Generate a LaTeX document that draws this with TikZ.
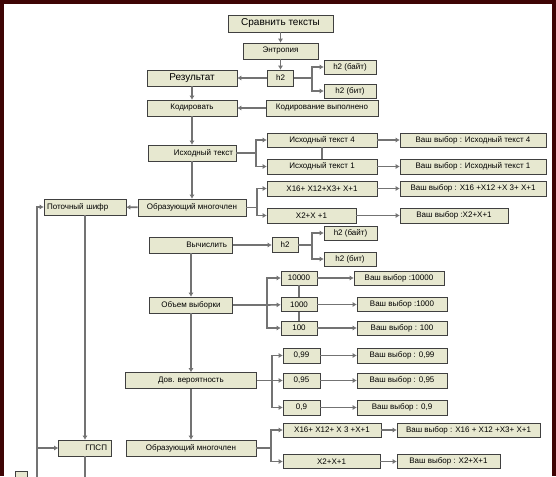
\documentclass[tikz,border=0pt]{standalone}
\usepackage{fontspec}
\setmainfont{Liberation Sans}
\usetikzlibrary{shapes,arrows.meta}
\usetikzlibrary{positioning}
\usetikzlibrary{shadows}
\definecolor{boxfill}{RGB}{231,232,208}
\definecolor{frame}{RGB}{62,4,4}
\tikzstyle{block} = [rectangle, draw=black!75, fill=boxfill, line width=0.6pt,
    inner sep=1pt, font=\fontsize{8}{9}\selectfont,
    drop shadow={shadow xshift=0.8pt, shadow yshift=-0.8pt, fill=black!75, opacity=1}]
\tikzstyle{bigblock} = [block, font=\fontsize{10}{11}\selectfont]
\tikzstyle{edge} = [draw=black!55, line width=1.6pt]
\tikzstyle{line} = [edge, -{Latex[length=4pt,width=5pt]}]
\tikzset{wh/.style 2 args={minimum width=#1pt, minimum height=#2pt}}

\begin{document}
\begin{tikzpicture}[x=1pt, y=-1pt]
\useasboundingbox (0,0) rectangle (556,476);
\clip (0,0) rectangle (556,476);
\fill[frame] (0,0) rectangle (556,476);
\fill[white] (4,4) rectangle (552,480);

% Place nodes
\node [bigblock, wh={105}{17}] (cmp) at (280.5,23.5) {Сравнить тексты};
\node [block, wh={75}{16}] (ent) at (280.5,51) {Энтропия};
\node [bigblock, wh={90}{16}] (res) at (192,78) {Результат};
\node [block, wh={26}{16}] (hA) at (280.5,78) {h2};
\node [block, wh={52}{14}] (hAbyte) at (350,67) {h2 (байт)};
\node [block, wh={52}{14}] (hAbit) at (350,91) {h2 (бит)};
\node [block, wh={90}{16}] (cod) at (192,108) {Кодировать};
\node [block, wh={112}{16}] (done) at (322,108) {Кодирование выполнено};

\node [block, wh={88}{16}, text width=82pt, align=right] (src) at (192,153) {Исходный текст};
\node [block, wh={110}{14}] (src4) at (322,140) {Исходный текст 4};
\node [block, wh={146}{14}] (ch4) at (473,140) {Ваш выбор : Исходный текст 4};
\node [block, wh={110}{15}] (src1) at (322,166.5) {Исходный текст 1};
\node [block, wh={146}{15}] (ch1) at (473,166.5) {Ваш выбор : Исходный текст 1};

\node [block, wh={82}{16}, text width=76pt, align=left] (potok) at (85,207) {Поточный шифр};
\node [block, wh={108}{17}] (polyA) at (192,207.5) {Образующий многочлен};
\node [block, wh={110}{15}] (pA16) at (322,188.5) {X16+ X12+X3+ X+1};
\node [block, wh={146}{15}] (chA16) at (473,188.5) {Ваш выбор : X16 +X12 +X 3+ X+1};
\node [block, wh={89}{15}] (pA2) at (311.5,215.5) {X2+X +1};
\node [block, wh={108}{15}] (chA2) at (454,215.5) {Ваш выбор :X2+X+1};

\node [block, wh={83}{16}, text width=72pt, align=right] (calc) at (191,245) {Вычислить};
\node [block, wh={26}{15}] (hB) at (285,245) {h2};
\node [block, wh={53}{14}] (hBbyte) at (350.5,233) {h2 (байт)};
\node [block, wh={52}{14}] (hBbit) at (350,259) {h2 (бит)};

\node [block, wh={83}{16}] (vol) at (191,305) {Объем выборки};
\node [block, wh={36}{14}] (n10000) at (299,278) {10000};
\node [block, wh={90}{14}] (ch10000) at (399,278) {Ваш выбор :10000};
\node [block, wh={36}{14}] (n1000) at (299,304.5) {1000};
\node [block, wh={90}{14}] (ch1000) at (402,304.5) {Ваш выбор :1000};
\node [block, wh={36}{14}] (n100) at (299,328) {100};
\node [block, wh={90}{14}] (ch100) at (402,328) {Ваш выбор : 100};

\node [block, wh={131}{16}] (prob) at (191,380.5) {Дов. вероятность};
\node [block, wh={37}{15}] (p99) at (301.5,355.5) {0,99};
\node [block, wh={90}{15}] (ch99) at (402,355.5) {Ваш выбор : 0,99};
\node [block, wh={37}{15}] (p95) at (301.5,380.5) {0,95};
\node [block, wh={90}{15}] (ch95) at (402,380.5) {Ваш выбор : 0,95};
\node [block, wh={37}{15}] (p9) at (301.5,407.5) {0,9};
\node [block, wh={90}{15}] (ch9) at (402,407.5) {Ваш выбор : 0,9};

\node [block, wh={53}{16}, text width=44pt, align=right] (gpsp) at (85,448) {ГПСП};
\node [block, wh={130}{16}] (polyB) at (191,448) {Образующий многочлен};
\node [block, wh={98}{14}] (pB16) at (332,430) {X16+ X12+ X 3 +X+1};
\node [block, wh={143}{14}] (chB16) at (468.5,430) {Ваш выбор : X16 + X12 +X3+ X+1};
\node [block, wh={97}{14}] (pB2) at (331.5,461.5) {X2+X+1};
\node [block, wh={103}{14}] (chB2) at (448.5,461.5) {Ваш выбор : X2+X+1};

\node [block, wh={12}{10}] (stub) at (21,476) {};

% Branch points
\coordinate (hAdot) at (312,78);
\coordinate (srcdot) at (256,153);
\coordinate (polyAdot) at (257,207.5);
\coordinate (hBdot) at (312,245);
\coordinate (voldot) at (267,305);
\coordinate (probdot) at (272,380.5);
\coordinate (polyBdot) at (271,448);
\coordinate (lmid) at (37,448);
\coordinate (lbot) at (37,480);
\coordinate (gbot) at (85,480);

% Draw edges
\path [line] (cmp) -- (ent);
\path [line] (ent) -- (hA);
\path [line] (hA) -- (res);
\path [edge] (hA) -- (hAdot);
\path [line] (hAdot) |- (hAbyte);
\path [line] (hAdot) |- (hAbit);
\path [line] (res) -- (cod);
\path [line] (done) -- (cod);
\path [line] (cod) -- (src);

\path [edge] (src) -- (srcdot);
\path [line] (srcdot) |- (src4);
\path [line] (srcdot) |- (src1);
\path [edge] (src4) -- (src1);
\path [line] (src4) -- (ch4);
\path [line] (src1) -- (ch1);
\path [line] (src) -- (polyA);

\path [line] (polyA) -- (potok);
\path [edge] (polyA) -- (polyAdot);
\path [line] (polyAdot) |- (pA16);
\path [line] (polyAdot) |- (pA2);
\path [line] (pA16) -- (chA16);
\path [line] (pA2) -- (chA2);

\path [line] (calc) -- (hB);
\path [edge] (hB) -- (hBdot);
\path [line] (hBdot) |- (hBbyte);
\path [line] (hBdot) |- (hBbit);
\path [line] (calc) -- (vol);

\path [edge] (vol) -- (voldot);
\path [line] (voldot) |- (n10000);
\path [line] (voldot) -- (n1000);
\path [line] (voldot) |- (n100);
\path [edge] (n10000) -- (n1000);
\path [edge] (n1000) -- (n100);
\path [line] (n10000) -- (ch10000);
\path [line] (n1000) -- (ch1000);
\path [line] (n100) -- (ch100);
\path [line] (vol) -- (prob);

\path [edge] (prob) -- (probdot);
\path [line] (probdot) |- (p99);
\path [line] (probdot) -- (p95);
\path [line] (probdot) |- (p9);
\path [line] (p99) -- (ch99);
\path [line] (p95) -- (ch95);
\path [line] (p9) -- (ch9);
\path [line] (prob) -- (polyB);

\path [edge] (polyB) -- (polyBdot);
\path [line] (polyBdot) |- (pB16);
\path [line] (polyBdot) |- (pB2);
\path [line] (pB16) -- (chB16);
\path [line] (pB2) -- (chB2);

\path [line] (lbot) |- (potok);
\path [line] (lmid) -- (gpsp);
\path [line] (potok) -- (gpsp);
\path [edge] (gpsp) -- (gbot);

\end{tikzpicture}
\end{document}
